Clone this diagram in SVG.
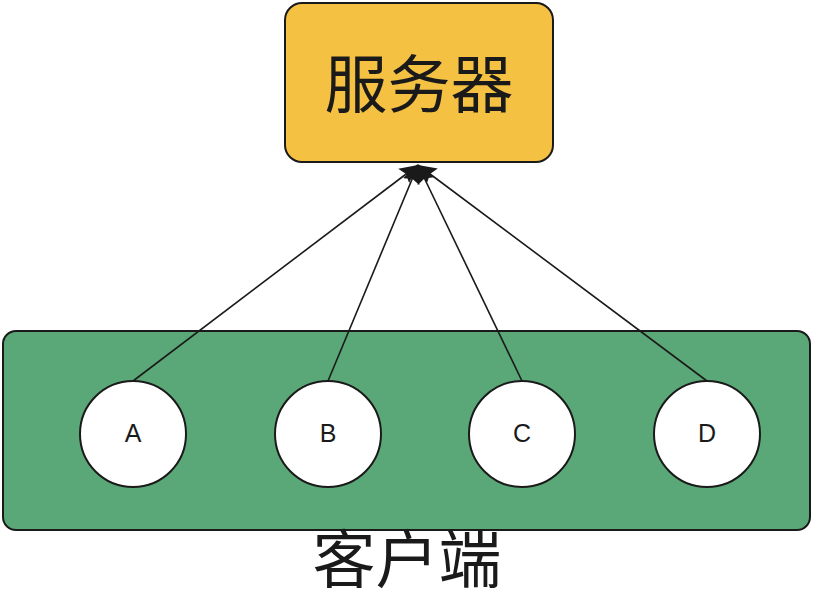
<svg xmlns="http://www.w3.org/2000/svg" width="814" height="616" viewBox="0 0 814 616">
<style>
.cjk{font-family:"Noto Sans CJK SC","Noto Sans",sans-serif;font-size:63px;fill:#1a1a1a;text-anchor:middle}
.lbl{font-family:"Liberation Sans",Arial,sans-serif;font-size:25px;fill:#1a1a1a;text-anchor:middle;dominant-baseline:central}
.node{fill:#ffffff;stroke:#1a1a1a;stroke-width:2}
.edge{stroke:#1a1a1a;stroke-width:1.6;fill:none;marker-end:url(#arr)}
</style>
<defs>
<marker id="arr" markerUnits="userSpaceOnUse" markerWidth="22" markerHeight="20" refX="18" refY="10" orient="auto">
<path d="M0,1 L18,10 L0,19 L3,10 Z" fill="#1a1a1a"/>
</marker>
</defs>
<g id="client-group">
<rect x="3" y="331" width="807" height="199" rx="13" fill="#5aa777" stroke="#1a1a1a" stroke-width="2"/>
<text class="cjk" x="407" y="582">客户端</text>
</g>
<g id="server">
<rect x="285" y="3" width="268" height="159" rx="17" fill="#f5c143" stroke="#1a1a1a" stroke-width="2"/>
<text class="cjk" x="419" y="107">服务器</text>
</g>
<g id="connectors">
<line class="edge" x1="133" y1="381" x2="418" y2="165"/>
<line class="edge" x1="328" y1="381" x2="418" y2="165"/>
<line class="edge" x1="522" y1="381" x2="418" y2="165"/>
<line class="edge" x1="707" y1="381" x2="418" y2="165"/>
</g>
<g id="A"><circle class="node" cx="133" cy="434" r="53"/><text class="lbl" x="133" y="433">A</text></g>
<g id="B"><circle class="node" cx="328" cy="434" r="53"/><text class="lbl" x="328" y="433">B</text></g>
<g id="C"><circle class="node" cx="522" cy="434" r="53"/><text class="lbl" x="522" y="433">C</text></g>
<g id="D"><circle class="node" cx="707" cy="434" r="53"/><text class="lbl" x="707" y="433">D</text></g>
</svg>
